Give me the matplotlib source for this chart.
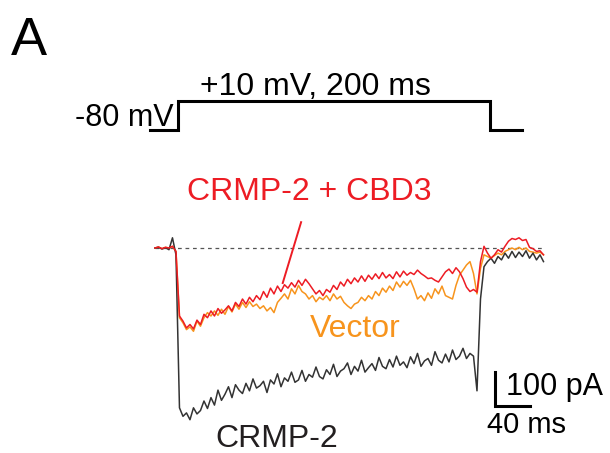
import numpy as np
import matplotlib
matplotlib.use('Agg')
import matplotlib.pyplot as plt

plt.rcParams['font.family'] = ['Liberation Sans', 'DejaVu Sans']

# sample times (ms), 0 = start of the depolarising step
t = np.arange(-24, 421, 4)

# whole-cell currents (pA)
crmp2 = [0, 2, -3, 1, -5, 30, -20,
         -470, -495, -485, -505, -470, -488, -478, -450, -472, -440,
         -462, -418, -448, -430, -408, -440, -402, -418, -428, -398,
         -420, -385, -412, -405, -392, -425, -388, -400, -370, -408,
         -382, -392, -365, -395, -388, -360, -392, -372, -380, -350,
         -378, -385, -358, -372, -342, -378, -362, -355, -338, -372,
         -348, -362, -330, -365, -352, -340, -360, -322, -348, -355,
         -328, -350, -318, -345, -335, -352, -320, -340, -310, -348,
         -332, -325, -345, -305, -330, -338, -312, -335, -300, -328,
         -318, -295, -325, -310, -318,
         -420, -150, -55, -40, -30, -45, -25, -35, -15, -30, -10, -28,
         -12, -25, -8, -30, -15, -35, -20, -40]

crmp2_cbd3 = [0, 3, -2, 2, 0, 5, -10,
              -200, -215, -235, -225, -238, -212, -225, -195, -205, -185,
              -200, -178, -192, -182, -170, -185, -160, -172, -150, -165,
              -145, -158, -140, -152, -128, -145, -118, -135, -112, -128,
              -108, -118, -102, -115, -95, -110, -92, -105, -120, -135,
              -125, -140, -122, -130, -110, -122, -100, -112, -92, -105,
              -88, -100, -82, -98, -80, -92, -76, -90, -72, -88,
              -78, -90, -70, -85, -68, -80, -72, -78, -65, -75,
              -82, -90, -88, -95, -100, -85, -70, -62, -75, -58,
              -70, -90, -115, -128, -122,
              -130, -40, 5, -15, -30, -20, -5, -12, 5, 20, 28, 25,
              30, 22, 25, 2, -2, -10, -8, -20]

vector = [0, 3, -2, 2, 0, 5, -10,
          -205, -220, -240, -232, -245, -215, -230, -205, -190, -200,
          -185, -198, -180, -195, -172, -188, -165, -180, -160, -175,
          -158, -172, -165, -178, -170, -185, -175, -190, -160, -148,
          -135, -150, -120, -135, -110, -128, -135, -150, -140, -158,
          -145, -152, -140, -155, -135, -150, -142, -160, -170, -178,
          -165, -160, -145, -155, -140, -150, -128, -140, -118, -130,
          -112, -125, -100, -115, -98, -110, -95, -120, -150, -140,
          -155, -132, -148, -120, -135, -112, -140, -145, -150, -110,
          -80, -65, -50, -40, -75,
          -135, -60, -20, -25, -30, -22, -15, -20, -10, -5, 0, -5,
          2, -5, 0, -10, -12, -15, -12, -20]

# voltage protocol (ms, mV)
prot_t = [-30, 2, 2, 359, 359, 395]
prot_v = [-80, -80, 10, 10, -80, -80]

# scale bars
bar_t = 40
bar_i = 100

fig = plt.figure(figsize=(6.1, 4.53), dpi=100)
ax = fig.add_axes([0, 0, 1, 1])
ax.set_xlim(-201.1, 496.0)
ax.set_ylim(-602.9, 729.4)
ax.axis('off')

ax.plot([-24, 422], [0, 0], color='#555555', lw=0.9, ls=(0, (3, 3)))
ax.plot(t, vector, color='#f7941d', lw=1.1)
ax.plot(t, crmp2, color='#333333', lw=1.1)
ax.plot(t, crmp2_cbd3, color='#ed1c24', lw=1.1)

# pointer from the red label to its trace
ax.plot([143, 122], [76, -103], color='#ed1c24', lw=1.4)

# scale bar
x0, y0 = 364.6, -464.7
ax.plot([x0, x0, x0 + bar_t], [y0 + bar_i, y0, y0], color='black', lw=2.2,
        solid_joinstyle='miter')

# protocol on its own vertical scale
ax2 = fig.add_axes([0, 0, 1, 1])
ax2.set_xlim(ax.get_xlim())
ax2.set_ylim(-1082.5, 323.5)
ax2.axis('off')
ax2.patch.set_alpha(0)
ax2.plot(prot_t, prot_v, color='black', lw=2.2, solid_joinstyle='miter')

W, H = 610.0, 453.0
def ftext(x, y, s, **kw):
    fig.text(x / W, 1 - y / H, s, va='baseline', **kw)

ftext(11, 55, 'A', fontsize=39)
ftext(200, 95, '+10 mV, 200 ms', fontsize=23)
ftext(174, 126, '-80 mV', fontsize=22, ha='right')
ftext(187, 200, 'CRMP-2 + CBD3', fontsize=23, color='#ed1c24')
ftext(310, 337, 'Vector', fontsize=23, color='#f7941d')
ftext(215, 447, 'CRMP-2', fontsize=23, color='#231f20')
ftext(506, 395, '100 pA', fontsize=22)
ftext(487, 433, '40 ms', fontsize=21)

fig.savefig('out.png', dpi=100)
